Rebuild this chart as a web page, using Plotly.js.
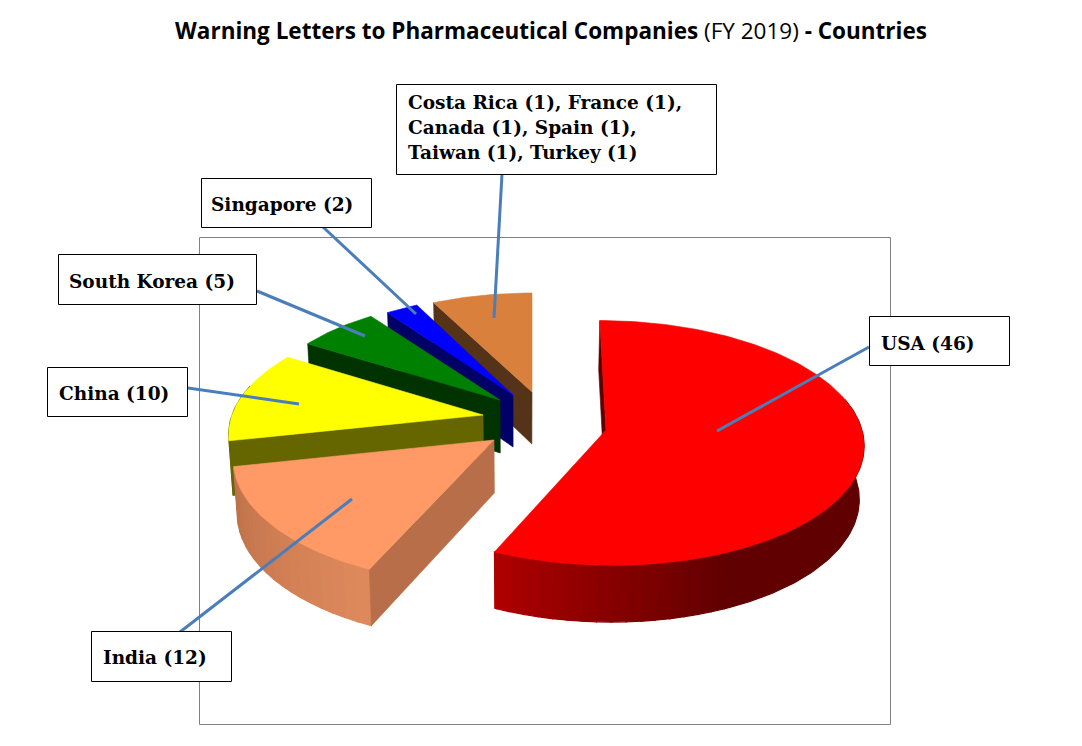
<!DOCTYPE html>
<html>
<head>
<meta charset="utf-8">
<script src="https://cdn.plot.ly/plotly-3.0.1.min.js"></script>
<style>html,body{margin:0;padding:0;background:#fff}#chart{width:1082px;height:746px}</style>
</head>
<body>
<div id="chart"></div>
<script>
// ---- data ----
var categories = ['USA', 'India', 'China', 'South Korea', 'Singapore'];
var categoryValues = [46, 12, 10, 5, 2];
var smallCountries = ['Costa Rica', 'France', 'Canada', 'Spain', 'Taiwan', 'Turkey'];
var smallCountryValues = [1, 1, 1, 1, 1, 1];

// ---- style ----
var topColors  = ['#ff0000', '#ff9966', '#ffff00', '#008000', '#0000ff', '#d9803c'];
var edgeColors = ['#600000', '#b86e48', '#666600', '#003300', '#000066', '#553319'];
var rimFrom    = [[96,0,0], [222,137,92], [102,102,0], [0,51,0], [0,0,102], [85,51,25]];   // at low angle end
var rimTo      = [[178,0,0], [188,112,72], [102,102,0], [0,51,0], [0,0,102], [85,51,25]];
var leaderColor = '#4a7ebb';
var labelFont = {family: '"DejaVu Serif", serif', size: 18.5, color: '#000'};

// ---- projection geometry of the exploded 3-D pie (per slice: apex, scale, perspective, height) ----
var RX = 260, RY = 122, VANISH_X = 520;
var apexX = [606, 494, 483, 500, 513, 532];
var apexY = [430, 440, 415, 400, 395, 392];
var scale = [0.992, 0.995, 0.965, 0.905, 0.89, 0.884];
var stretchX = [0.994, 0.995, 1, 1.012, 1, 1.03];
var persp = [0.106, 0.16, 0.163, 0.089, 0.089, 0.089];
var shiftX = [60, 0, 0, 0, 0, 0];
var wallH = [53, 53, 54, 53, 52, 52];

var smallTotal = smallCountryValues.reduce(function (a, b) { return a + b; }, 0);
var sliceValues = categoryValues.concat([smallTotal]);
var total = sliceValues.reduce(function (a, b) { return a + b; }, 0);

function rim(i, deg) {
  var t = deg * Math.PI / 180, u = Math.sin(t), v = -Math.cos(t);
  var s = scale[i] / (1 - persp[i] * v);
  return {x: apexX[i] + RX * stretchX[i] * u * s + shiftX[i] * (s - 1), y: apexY[i] + RY * v * s, v: v};
}
function drop(i, p) {
  return {x: p.x + (VANISH_X - p.x) * 0.014, y: p.y + wallH[i] * (1 + 0.07 * (p.v || 0))};
}
function poly(pts, color, name, lw) {
  pts = pts.concat([pts[0]]);
  return {
    type: 'scatter', mode: 'lines', fill: 'toself', fillcolor: color,
    x: pts.map(function (p) { return p.x; }), y: pts.map(function (p) { return p.y; }),
    line: {color: color, width: lw || 0.6}, hoverinfo: name ? 'name' : 'skip', name: name || '', showlegend: false
  };
}

var starts = [], acc = 0;
sliceValues.forEach(function (val) { starts.push(acc / total * 360); acc += val; });

var traces = [];
// back slices are painted first, the front ones last
[5, 4, 3, 2, 1, 0].forEach(function (i) {
  var a0 = starts[i], a1 = a0 + sliceValues[i] / total * 360;
  var apex = {x: apexX[i], y: apexY[i], v: 0};
  // outer wall, in small shaded bands (bands of one colour are merged)
  var step = 3, cur = null, curColor = null;
  function flush() {
    if (!cur) return;
    var low = cur.map(function (p) { return drop(i, p); }).reverse();
    traces.push(poly(cur.concat(low), curColor, null, 1.2));
    cur = null;
  }
  for (var a = a0; a < a1; a += step) {
    var b = Math.min(a + step, a1);
    if (-Math.cos((a + b) / 2 * Math.PI / 180) < -0.25) { flush(); continue; }
    var f = (a - a0) / (a1 - a0);
    if (i === 0) { f = Math.min(1, Math.max(0, (a - 155) / (a1 - 155))); }
    var c = [0, 1, 2].map(function (k) { return Math.round(rimFrom[i][k] + (rimTo[i][k] - rimFrom[i][k]) * f); });
    var col = 'rgb(' + c.join(',') + ')';
    if (col !== curColor) {
      flush();
      curColor = col;
      cur = [rim(i, a)];
    } else if (!cur) {
      cur = [rim(i, a)];
    }
    for (var d = a + 1; d < b; d += 1) cur.push(rim(i, d));
    cur.push(rim(i, b));
  }
  flush();
  // radial wall at the start edge
  var p0 = rim(i, a0);
  traces.push(poly([p0, apex, drop(i, apex), drop(i, p0)], edgeColors[i]));
  // top face
  var top = [apex];
  for (var d2 = a0; d2 < a1; d2 += 1) top.push(rim(i, d2));
  top.push(rim(i, a1));
  traces.push(poly(top, topColors[i], i < 5 ? categories[i] : smallCountries.join(', ')));
});

// ---- leader lines and label boxes ----
var leaders = [
  [[717, 431], [869, 347]], [[352, 499], [180, 632]], [[299, 404], [188, 388]],
  [[365, 336], [257, 291]], [[416, 314], [323, 227]], [[494, 318], [502, 174]]
];
leaders.forEach(function (l) {
  traces.push({
    type: 'scatter', mode: 'lines', x: [l[0][0], l[1][0]], y: [l[0][1], l[1][1]],
    line: {color: leaderColor, width: 3}, hoverinfo: 'skip', showlegend: false
  });
});

var boxes = [[869, 316, 1010, 366], [91, 631, 232, 682], [47, 367, 188, 417], [58, 254, 257, 305], [201, 178, 372, 228], [396, 84, 717, 175]];
var shapes = [{type: 'rect', layer: 'below', x0: 199.5, x1: 890.5, y0: 237.5, y1: 724.5, line: {color: '#808080', width: 1}}];
boxes.forEach(function (b) {
  shapes.push({type: 'rect', layer: 'above', x0: b[0] + 0.5, y0: b[1] + 0.5, x1: b[2] - 0.5, y1: b[3] - 0.5, fillcolor: '#fff', line: {color: '#000', width: 1}});
});

function txt(x, y, s) {
  return {x: x, y: y, xref: 'x', yref: 'y', text: '<b>' + s + '</b>', showarrow: false, xanchor: 'left', yanchor: 'middle', align: 'left', font: labelFont};
}
var annotations = [];
var textPos = [[879, 343], [101, 657], [57, 393], [67, 281], [209, 204]];
categories.forEach(function (c, i) {
  annotations.push(txt(textPos[i][0], textPos[i][1], c + ' (' + categoryValues[i] + ')'));
});
var lineY = [102, 127, 152];
for (var n = 0; n < 3; n++) {
  annotations.push(txt(406, lineY[n],
    smallCountries[2 * n] + ' (' + smallCountryValues[2 * n] + '), ' +
    smallCountries[2 * n + 1] + ' (' + smallCountryValues[2 * n + 1] + ')' + (n < 2 ? ',' : '')));
}

var layout = {
  width: 1082, height: 746, margin: {l: 0, r: 0, t: 0, b: 0},
  paper_bgcolor: '#fff', plot_bgcolor: '#fff', showlegend: false, hovermode: 'closest',
  title: {
    text: '<b>Warning Letters to Pharmaceutical Companies</b> (FY 2019) <b>- Countries</b>',
    x: 551 / 1082, xref: 'paper', xanchor: 'center', y: 1 - 31 / 746, yref: 'paper', yanchor: 'middle',
    font: {family: '"Open Sans", sans-serif', size: 22.5, color: '#000'}
  },
  xaxis: {range: [0, 1082], visible: false, fixedrange: true},
  yaxis: {range: [746, 0], visible: false, fixedrange: true},
  shapes: shapes, annotations: annotations
};
Plotly.newPlot('chart', traces, layout, {displayModeBar: false, responsive: false});
</script>
</body>
</html>
